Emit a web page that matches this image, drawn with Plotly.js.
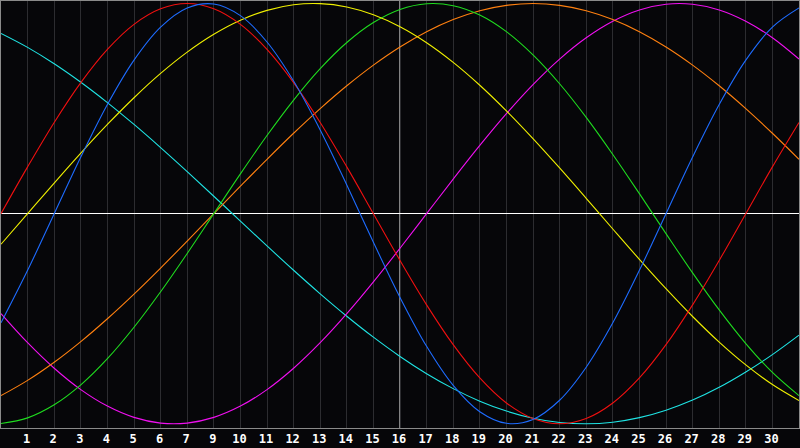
<!DOCTYPE html>
<html>
<head>
<meta charset="utf-8">
<script src="https://cdn.plot.ly/plotly-3.0.1.min.js"></script>
<style>
html,body{margin:0;padding:0;background:#060609;}
#chart{width:800px;height:448px;}
</style>
</head>
<body>
<div id="chart"></div>
<script>
// Day slots along the x axis (0 = left edge, 30 = right edge)
const slots = [0,1,2,3,4,5,6,7,8,9,10,11,12,13,14,15,16,17,18,19,20,21,22,23,24,25,26,27,28,29,30];

// Tick labels as printed under the chart (note: "8" is absent in the original)
const tickSlots = [1,2,3,4,5,6,7,8,9,10,11,12,13,14,15,16,17,18,19,20,21,22,23,24,25,26,27,28,29];
const tickLabels = ['1','2','3','4','5','6','7','9','10','11','12','13','14','15','16','17','18','19','20','21','22','23','24','25','26','27','28','29','30'];

// Marker for "today" vertical line (slot under label 16)
const todaySlot = 15;

// Curve values (-1 .. +1)
const red = [0,0.2225,0.4339,0.6235,0.7818,0.9010,0.9749,1,0.9749,0.9010,0.7818,0.6235,0.4339,0.2225,0,-0.2225,-0.4339,-0.6235,-0.7818,-0.9010,-0.9749,-1,-0.9749,-0.9010,-0.7818,-0.6235,-0.4339,-0.2225,0,0.2225,0.4339];
const blue = [-0.5196,-0.2698,0,0.2698,0.5196,0.7308,0.8879,0.9791,0.9977,0.9423,0.8170,0.6311,0.3984,0.1362,-0.1362,-0.3984,-0.6311,-0.8170,-0.9423,-0.9977,-0.9791,-0.8879,-0.7308,-0.5196,-0.2698,0,0.2698,0.5196,0.7308,0.8879,0.9791];
const green = [-0.9989,-0.9718,-0.9096,-0.8146,-0.6901,-0.5406,-0.3717,-0.1893,0,0.1893,0.3717,0.5406,0.6901,0.8146,0.9096,0.9718,0.9989,0.9898,0.9450,0.8660,0.7557,0.6182,0.4582,0.2817,0.0951,-0.0951,-0.2817,-0.4582,-0.6182,-0.7557,-0.8660];
const magenta = [-0.4759,-0.6142,-0.7357,-0.8372,-0.9158,-0.9694,-0.9966,-0.9966,-0.9694,-0.9158,-0.8372,-0.7357,-0.6142,-0.4759,-0.3247,-0.1646,0,0.1646,0.3247,0.4759,0.6142,0.7357,0.8372,0.9158,0.9694,0.9966,0.9966,0.9694,0.9158,0.8372,0.7357];
const yellow = [-0.1456,0,0.1456,0.2881,0.4244,0.5517,0.6673,0.7686,0.8536,0.9204,0.9675,0.9940,0.9993,0.9834,0.9464,0.8893,0.8133,0.7199,0.6112,0.4894,0.3572,0.2174,0.0730,-0.0730,-0.2174,-0.3572,-0.4894,-0.6112,-0.7199,-0.8133,-0.8893];
const orange = [-0.8660,-0.7934,-0.7071,-0.6088,-0.5,-0.3827,-0.2588,-0.1305,0,0.1305,0.2588,0.3827,0.5,0.6088,0.7071,0.7934,0.8660,0.9239,0.9659,0.9914,1,0.9914,0.9659,0.9239,0.8660,0.7934,0.7071,0.6088,0.5,0.3827,0.2588];
const cyan = [0.8579,0.7914,0.7134,0.6254,0.5287,0.4247,0.3146,0.2002,0.0829,-0.0355,-0.1535,-0.2693,-0.3814,-0.4880,-0.5878,-0.6794,-0.7615,-0.8326,-0.8924,-0.9395,-0.9734,-0.9937,-1.0,-0.9923,-0.9706,-0.9353,-0.8870,-0.8261,-0.7532,-0.6707,-0.5781];

const series = [
  {name:'cyan', y:cyan, color:'#1fe3e3'},
  {name:'magenta', y:magenta, color:'#f010f0'},
  {name:'orange', y:orange, color:'#ff8010'},
  {name:'green', y:green, color:'#1fdc1f'},
  {name:'yellow', y:yellow, color:'#f0f000'},
  {name:'red', y:red, color:'#f01010'},
  {name:'blue', y:blue, color:'#1e6cff'}
];

const traces = series.map(s => ({
  type:'scatter', mode:'lines', x:slots, y:s.y, name:s.name,
  line:{color:s.color, width:1.1, shape:'spline', smoothing:1},
  hoverinfo:'skip'
}));

const layout = {
  width:800, height:448,
  margin:{l:1, r:1, t:1, b:20, pad:0},
  paper_bgcolor:'#060609', plot_bgcolor:'#060609',
  showlegend:false,
  xaxis:{
    range:[slots[0], slots[slots.length-1]],
    tickmode:'array', tickvals:tickSlots, ticktext:tickLabels,
    showgrid:true, gridcolor:'#2c2c30', gridwidth:1,
    zeroline:false, ticks:'', ticklen:0,
    showline:true, linecolor:'#8a8a8a', linewidth:1, mirror:true,
    tickfont:{family:'DejaVu Sans Mono', size:12, color:'#ffffff', weight:'bold'},
    ticklabelstandoff:0,
    ticklabelshift:-1,
    fixedrange:true
  },
  yaxis:{
    range:[-1.02, 1.012],
    showticklabels:false, ticks:'', showgrid:false,
    zeroline:true, zerolinecolor:'#ffffff', zerolinewidth:1,
    showline:true, linecolor:'#8a8a8a', linewidth:1, mirror:true,
    fixedrange:true
  },
  shapes:[{
    type:'line', xref:'x', yref:'paper', x0:todaySlot, x1:todaySlot, y0:0, y1:1,
    line:{color:'#ffffff', width:1}, layer:'between'
  }]
};

Plotly.newPlot('chart', traces, layout, {staticPlot:true, displayModeBar:false});
</script>
</body>
</html>
